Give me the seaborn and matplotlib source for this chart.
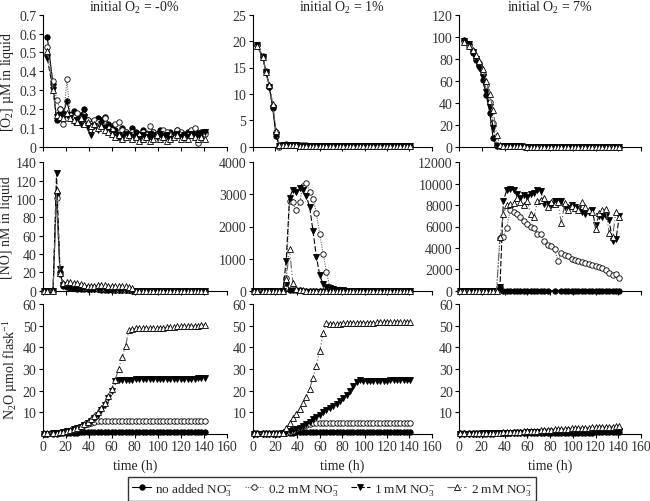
import numpy as np
import matplotlib
matplotlib.use("Agg")
import matplotlib.pyplot as plt
from matplotlib.ticker import FormatStrFormatter
import seaborn as sns

nan = np.nan

# sampling times (h)
time_h = [1, 4, 9, 12, 15, 18, 21, 24, 27, 30,
          33, 36, 39, 42, 45, 48, 51, 54, 57, 60,
          63, 66, 69, 72, 75, 78, 81, 84, 87, 90,
          93, 96, 99, 102, 105, 108, 111, 114, 117, 120,
          123, 126, 129, 132, 135, 138, 141]

treatments = ["no added NO$_3^{-}$", "0.2 mM NO$_3^{-}$", "1 mM NO$_3^{-}$", "2 mM NO$_3^{-}$"]
col_titles = ["initial O$_2$ = -0%", "initial O$_2$ = 1%", "initial O$_2$ = 7%"]
row_labels = ["[O$_2$] \u00b5M in liquid", "[NO] nM in liquid", "N$_2$O \u00b5mol flask$^{-1}$"]

# ---- [O2] uM, initial O2 ~0%
o2_a_none = [nan, 0.58, 0.33, 0.14, 0.20, 0.18, 0.24, 0.17, 0.19, 0.15,
             0.17, 0.20, 0.14, 0.13, 0.12, 0.15, 0.14, 0.16, 0.12, 0.11,
             0.09, 0.05, 0.10, 0.08, 0.07, 0.10, 0.08, 0.06, 0.09, 0.07,
             0.05, 0.08, 0.06, 0.09, 0.07, 0.06, 0.08, 0.06, 0.09, 0.07,
             0.05, 0.08, 0.06, 0.09, 0.07, 0.08, 0.08]
o2_a_02 = [nan, 0.53, 0.35, 0.25, 0.20, 0.12, 0.36, 0.17, 0.16, 0.18,
           0.15, 0.17, 0.14, 0.12, 0.14, 0.13, 0.12, 0.15, 0.10, 0.09,
           0.12, 0.13, 0.09, 0.08, 0.06, 0.08, 0.07, 0.06, 0.08, 0.07,
           0.11, 0.08, 0.07, 0.06, 0.09, 0.08, 0.07, 0.06, 0.09, 0.08,
           0.07, 0.06, 0.09, 0.10, 0.02, 0.06, 0.07]
o2_a_1 = [nan, 0.47, 0.30, 0.16, 0.17, 0.15, 0.17, 0.15, 0.13, 0.14,
          0.12, 0.16, 0.10, 0.06, 0.11, 0.09, 0.12, 0.10, 0.08, 0.07,
          0.05, 0.06, 0.05, 0.07, 0.06, 0.05, 0.07, 0.04, 0.06, 0.05,
          0.07, 0.06, 0.05, 0.07, 0.05, 0.06, 0.04, 0.06, 0.07, 0.05,
          0.06, 0.05, 0.07, 0.06, 0.05, 0.07, 0.08]
o2_a_2 = [nan, 0.51, 0.30, 0.17, 0.16, 0.15, 0.18, 0.15, 0.14, 0.13,
          0.15, 0.12, 0.13, 0.11, 0.12, 0.10, 0.11, 0.09, 0.08, 0.07,
          0.05, 0.06, 0.04, 0.05, 0.06, 0.04, 0.05, 0.03, 0.04, 0.05,
          0.03, 0.04, 0.06, 0.04, 0.05, 0.03, 0.04, 0.05, 0.06, 0.04,
          0.05, 0.04, 0.06, 0.05, 0.04, 0.05, 0.04]

# ---- [O2] uM, initial O2 1%
o2_b_none = [nan, 19.3, 17.0, 14.2, 11.4, 7.3, 2.1, 0.1, 0.3, 0.4,
             0.3, 0.3, 0.25, 0.2, 0.2, 0.2, 0.15, 0.15, 0.1, 0.1,
             0.1, 0.1, 0.1, 0.1, 0.05, 0.05, 0.05, 0.05, 0.05, 0.05,
             0.05, 0.05, 0.05, 0.05, 0.05, 0.05, 0.05, 0.05, 0.05, 0.05,
             0.05, 0.05, 0.05, 0.05, 0.05, 0.05, 0.05]
o2_b_02 = [nan, 19.3, 17.1, 14.3, 11.5, 7.8, 2.8, 0.0, 0.4, 0.5,
           0.4, 0.35, 0.3, 0.3, 0.25, 0.25, 0.2, 0.2, 0.15, 0.15,
           0.1, 0.1, 0.1, 0.1, 0.1, 0.1, 0.05, 0.05, 0.05, 0.05,
           0.05, 0.05, 0.05, 0.05, 0.05, 0.05, 0.05, 0.05, 0.05, 0.05,
           0.05, 0.05, 0.05, 0.05, 0.05, 0.05, 0.05]
o2_b_1 = [nan, 19.2, 17.0, 14.1, 11.3, 7.4, 2.2, 0.1, 0.3, 0.4,
          0.3, 0.3, 0.25, 0.2, 0.2, 0.2, 0.15, 0.15, 0.1, 0.1,
          0.1, 0.1, 0.1, 0.1, 0.05, 0.05, 0.05, 0.05, 0.05, 0.05,
          0.05, 0.05, 0.05, 0.05, 0.05, 0.05, 0.05, 0.05, 0.05, 0.05,
          0.05, 0.05, 0.05, 0.05, 0.05, 0.05, 0.05]
o2_b_2 = [nan, 19.0, 16.9, 14.2, 11.7, 8.0, 3.0, 0.3, 0.4, 0.4,
          0.3, 0.3, 0.25, 0.2, 0.2, 0.2, 0.15, 0.15, 0.1, 0.1,
          0.1, 0.1, 0.1, 0.1, 0.05, 0.05, 0.05, 0.05, 0.05, 0.05,
          0.05, 0.05, 0.05, 0.05, 0.05, 0.05, 0.05, 0.05, 0.05, 0.05,
          0.05, 0.05, 0.05, 0.05, 0.05, 0.05, 0.05]

# ---- [O2] uM, initial O2 7%
o2_c_none = [nan, 97, 93, 85, 79, 73, 61, 47, 31, 8,
             0.5, 0.5, 0.3, 0.3, 0.2, 0.2, 0.2, 0.2, 0.1, 0.1,
             0.1, 0.1, 0.1, 0.1, 0.1, 0.1, 0.1, 0.1, 0.1, 0.1,
             0.1, 0.1, 0.1, 0.1, 0.1, 0.1, 0.1, 0.1, 0.1, 0.1,
             0.1, 0.1, 0.1, 0.1, 0.1, 0.1, 0.1]
o2_c_02 = [nan, 96, 92, 87, 81, 76, 66, 56, 41, 22,
           1.5, 1.0, 0.5, 0.4, 0.3, 0.3, 0.2, 0.2, 0.2, 0.1,
           0.1, 0.1, 0.1, 0.1, 0.1, 0.1, 0.1, 0.1, 0.1, 0.1,
           0.1, 0.1, 0.1, 0.1, 0.1, 0.1, 0.1, 0.1, 0.1, 0.1,
           0.1, 0.1, 0.1, 0.1, 0.1, 0.1, 0.1]
o2_c_1 = [nan, 96, 93, 86, 80, 72, 63, 50, 36, 17,
          1.0, 0.5, 0.4, 0.3, 0.3, 0.2, 0.2, 0.2, 0.1, 0.1,
          0.1, 0.1, 0.1, 0.1, 0.1, 0.1, 0.1, 0.1, 0.1, 0.1,
          0.1, 0.1, 0.1, 0.1, 0.1, 0.1, 0.1, 0.1, 0.1, 0.1,
          0.1, 0.1, 0.1, 0.1, 0.1, 0.1, 0.1]
o2_c_2 = [nan, 95, 92, 88, 83, 78, 71, 60, 48, 33,
          11, 1.5, 0.5, 0.4, 0.3, 0.3, 0.2, 0.2, 0.2, 0.1,
          0.1, 0.1, 0.1, 0.1, 0.1, 0.1, 0.1, 0.1, 0.1, 0.1,
          0.1, 0.1, 0.1, 0.1, 0.1, 0.1, 0.1, 0.1, 0.1, 0.1,
          0.1, 0.1, 0.1, 0.1, 0.1, 0.1, 0.1]

# ---- [NO] nM, initial O2 ~0%
no_a_none = [0, 0, 0, 107, 20, 5, 4, 3, 3, 2,
             2, 2, 2, 2, 2, 2, 1, 1, 1, 1,
             1, 1, 1, 1, 1, 1, 0, 0, 0, 0,
             0, 0, 0, 0, 0, 0, 0, 0, 0, 0,
             0, 0, 0, 0, 0, 0, 0]
no_a_02 = [0, 0, 0, 101, 18, 7, 6, 5, 5, 4,
           4, 3, 3, 3, 3, 2, 2, 2, 2, 2,
           1, 1, 1, 1, 1, 0, 0, 0, 0, 0,
           0, 0, 0, 0, 0, 0, 0, 0, 0, 0,
           0, 0, 0, 0, 0, 0, 0]
no_a_1 = [0, 0, 0, 128, 24, 6, 5, 4, 4, 3,
          3, 3, 2, 2, 2, 2, 2, 2, 1, 1,
          1, 1, 1, 1, 1, 0, 0, 0, 0, 0,
          0, 0, 0, 0, 0, 0, 0, 0, 0, 0,
          0, 0, 0, 0, 0, 0, 0]
no_a_2 = [0, 0, 0, 110, 19, 8, 9, 9, 8, 8,
          7, 6, 5, 5, 5, 6, 6, 6, 5, 5,
          5, 5, 5, 5, 4, 3, 0, 0, 0, 0,
          0, 0, 0, 0, 0, 0, 0, 0, 0, 0,
          0, 0, 0, 0, 0, 0, 0]

# ---- [NO] nM, initial O2 1%
no_b_none = [0, 0, 0, 0, 0, 0, 0, 0, 0, 250,
             30, 20, 10, 10, 5, 0, 0, 0, 0, 0,
             0, 0, 0, 0, 0, 0, 0, 0, 0, 0,
             0, 0, 0, 0, 0, 0, 0, 0, 0, 0,
             0, 0, 0, 0, 0, 0, 0]
no_b_02 = [0, 0, 0, 0, 0, 0, 0, 0, 0, 400,
           2800, 2750, 2500, 2750, 3250, 3350, 3080, 2860, 2420, 1760,
           1150, 590, 100, 50, 20, 10, 0, 0, 0, 0,
           0, 0, 0, 0, 0, 0, 0, 0, 0, 0,
           0, 0, 0, 0, 0, 0, 0]
no_b_1 = [0, 0, 0, 0, 0, 0, 0, 0, 0, 930,
          2900, 3150, 3080, 3200, 3150, 2950, 2600, 1850, 1050, 480,
          200, 120, 80, 50, 30, 20, 10, 0, 0, 0,
          0, 0, 0, 0, 0, 0, 0, 0, 0, 0,
          0, 0, 0, 0, 0, 0, 0]
no_b_2 = [0, 0, 0, 0, 0, 0, 0, 0, 0, 350,
          1300, 230, 50, 20, 10, 5, 0, 0, 0, 0,
          0, 0, 0, 0, 0, 0, 0, 0, 0, 0,
          0, 0, 0, 0, 0, 0, 0, 0, 0, 0,
          0, 0, 0, 0, 0, 0, 0]

# ---- [NO] nM, initial O2 7%
no_c_none = [0, 0, 0, 0, 0, 0, 0, 0, 0, 0,
             0, 300, 0, 0, 0, 0, 0, 0, 0, 0,
             0, 0, 0, 0, 0, 0, nan, 0, nan, 0,
             0, 0, 0, 0, 0, 0, 0, 0, 0, 0,
             0, 0, 0, 0, 0, 0, 0]
no_c_02 = [0, 0, 0, 0, 0, 0, 0, 0, 0, 0,
           0, 4900, 5000, 5900, 7500, 7400, 7200, 6900, 6500, 6200,
           6000, 5900, 5300, 5300, 4600, 4300, 4200, 3900, 2800, 3500,
           3300, 3200, 3000, 2900, 2800, 2700, 2600, 2500, 2400, 2300,
           2200, 2100, 1900, 1700, 1500, 1600, 1200]
no_c_1 = [0, 0, 0, 0, 0, 0, 0, 0, 0, 0,
          0, 300, 8400, 9400, 9500, 9400, 9000, 8700, 8900, 8800,
          9000, 9100, 9400, 9300, 8100, 8100, 8000, 8400, 8400, 8400,
          7800, 7700, 8000, 7800, 7600, 7400, 7200, 7400, 7500, 6100,
          7000, 6900, 7000, 6600, 4600, 4800, 7000]
no_c_2 = [0, 0, 0, 0, 0, 0, 0, 0, 0, 0,
          0, 5000, 7200, 8000, 8100, 8200, 8700, 8300, 8000, 8400,
          7200, 6900, 8400, 8500, 8700, 7800, 8300, 8100, 8300, 6300,
          8200, 7500, 7900, 7700, 7500, 8300, 7800, 7500, 7400, 5800,
          7300, 7500, 7600, 5400, 5000, 7400, 6900]

# ---- N2O umol per flask, initial O2 ~0%
n2o_a_none = [0.1, 0.1, 0.2, 0.2, 0.3, 0.4, 0.5, 0.5, 0.6, 0.6,
              0.7, 0.7, 0.7, 0.7, 0.8, 0.8, 0.8, 0.8, 0.8, 0.8,
              0.8, 0.8, 0.8, 0.8, 0.8, 0.8, 0.8, 0.8, 0.8, 0.8,
              0.8, 0.8, 0.8, 0.9, 0.9, 0.9, 0.9, 0.9, 0.9, 0.9,
              0.9, 0.9, 0.9, 0.9, 0.9, 0.9, 0.9]
n2o_a_02 = [0.2, 0.2, 0.3, 0.4, 0.6, 0.9, 1.2, 1.6, 2.1, 2.7,
            3.3, 4.0, 4.7, 5.3, 5.7, 5.8, 5.8, 5.8, 5.8, 5.8,
            5.8, 5.8, 5.8, 5.8, 5.8, 5.8, 5.8, 5.8, 5.8, 5.8,
            5.8, 5.8, 5.8, 5.8, 5.8, 5.8, 5.8, 5.8, 5.8, 5.8,
            5.8, 5.8, 5.8, 5.8, 5.8, 5.8, 5.8]
n2o_a_1 = [0.2, 0.2, 0.3, 0.4, 0.6, 0.9, 1.2, 1.6, 2.1, 2.7,
           3.4, 4.2, 5.1, 6.2, 7.5, 9.0, 11.0, 13.5, 16.5, 20.0,
           24.5, 25.0, 25.0, 25.1, 25.1, 25.1, 25.2, 25.2, 25.2, 25.3,
           25.3, 25.3, 25.3, 25.4, 25.4, 25.4, 25.4, 25.5, 25.5, 25.5,
           25.5, 25.6, 25.6, 25.6, 25.7, 25.7, 25.8]
n2o_a_2 = [0.3, 0.3, 0.4, 0.5, 0.8, 1.0, 1.4, 1.9, 2.4, 3.0,
           3.8, 4.6, 5.6, 6.8, 8.2, 10.0, 12.0, 14.5, 17.5, 21.0,
           25.0, 30.0, 35.5, 40.5, 48.0, 48.5, 48.7, 48.8, 48.8, 48.9,
           48.9, 49.0, 48.7, 48.8, 49.0, 49.3, 49.5, 49.6, 49.7, 49.7,
           49.8, 49.8, 49.9, 50.0, 50.0, 50.2, 50.5]

# ---- N2O umol per flask, initial O2 1%
n2o_b_none = [0.2, 0.2, 0.2, 0.2, 0.2, 0.2, 0.2, 0.2, 0.3, 0.4,
              0.5, 0.6, 0.7, 0.7, 0.8, 0.8, 0.8, 0.8, 0.8, 0.8,
              0.8, 0.8, 0.8, 0.8, 0.8, 0.8, 0.8, 0.8, 0.8, 0.8,
              0.8, 0.8, 0.8, 0.8, 0.8, 0.8, 0.8, 0.8, 0.8, 0.8,
              0.8, 0.8, 0.8, 0.8, 0.8, 0.8, 0.8]
n2o_b_02 = [0.3, 0.3, 0.3, 0.3, 0.3, 0.3, 0.3, 0.3, 0.4, 0.6,
            1.0, 1.5, 2.1, 2.8, 3.5, 4.1, 4.6, 5.0, 5.2, 5.3,
            5.3, 5.3, 5.3, 5.3, 5.3, 5.3, 5.3, 5.3, 5.3, 5.3,
            5.3, 5.3, 5.3, 5.3, 5.3, 5.3, 5.3, 5.3, 5.3, 5.3,
            5.3, 5.3, 5.3, 5.3, 5.3, 5.3, 5.3]
n2o_b_1 = [0.2, 0.2, 0.2, 0.2, 0.2, 0.2, 0.2, 0.2, 0.5, 0.8,
           1.2, 1.7, 2.3, 3.0, 3.8, 4.7, 5.7, 6.8, 7.9, 9.0,
           10.0, 11.0, 12.0, 13.0, 14.0, 15.2, 16.6, 18.2, 20.0, 22.0,
           24.0, 24.8, 24.6, 24.5, 24.5, 24.5, 24.6, 24.6, 24.6, 24.6,
           24.7, 24.7, 24.7, 24.7, 24.8, 24.8, 24.8]
n2o_b_2 = [0.3, 0.3, 0.3, 0.3, 0.3, 0.3, 0.3, 0.4, 0.6, 2.7,
           5.0, 7.3, 9.2, 11.6, 14.2, 17.3, 21.0, 26.0, 31.5, 38.3,
           46.7, 51.3, 51.0, 50.9, 51.0, 51.0, 51.1, 51.1, 51.2, 51.2,
           51.3, 51.3, 51.3, 51.4, 51.4, 51.4, 51.5, 51.5, 51.5, 51.5,
           51.6, 51.6, 51.6, 51.6, 51.7, 51.7, 51.7]

# ---- N2O umol per flask, initial O2 7%
n2o_c_none = [0.2, 0.2, 0.2, 0.2, 0.2, 0.2, 0.2, 0.2, 0.2, 0.2,
              0.3, 0.3, 0.3, 0.3, 0.3, 0.3, 0.3, 0.4, 0.4, 0.4,
              0.4, 0.4, 0.4, 0.4, 0.5, 0.5, 0.5, 0.5, 0.5, 0.5,
              0.5, 0.6, 0.6, 0.6, 0.6, 0.6, 0.6, 0.6, 0.6, 0.7,
              0.7, 0.7, 0.7, 0.7, 0.7, 0.7, 0.7]
n2o_c_02 = [0.3, 0.3, 0.3, 0.3, 0.3, 0.3, 0.3, 0.4, 0.4, 0.4,
            0.5, 0.5, 0.5, 0.6, 0.6, 0.7, 0.7, 0.8, 0.8, 0.9,
            0.9, 1.0, 1.1, 1.1, 1.2, 1.3, 1.3, 1.4, 1.5, 1.5,
            1.6, 1.7, 1.7, 1.8, 1.8, 1.9, 1.9, 2.0, 2.0, 2.1,
            2.1, 2.1, 2.2, 2.2, 2.2, 2.3, 2.3]
n2o_c_1 = [0.2, 0.2, 0.2, 0.2, 0.2, 0.2, 0.3, 0.3, 0.3, 0.3,
           0.4, 0.4, 0.4, 0.5, 0.5, 0.5, 0.6, 0.6, 0.6, 0.7,
           0.7, 0.7, 0.8, 0.8, 0.8, 0.9, 0.9, 0.9, 1.0, 1.0,
           1.0, 1.1, 1.1, 1.1, 1.2, 1.2, 1.2, 1.3, 1.3, 1.3,
           1.4, 1.4, 1.4, 1.5, 1.5, 1.5, 1.5]
n2o_c_2 = [0.3, 0.3, 0.3, 0.3, 0.3, 0.4, 0.4, 0.4, 0.5, 0.5,
           0.6, 0.6, 0.7, 0.8, 0.8, 0.9, 1.0, 1.1, 1.2, 1.3,
           1.4, 1.5, 1.6, 1.7, 1.8, 1.9, 2.0, 2.1, 2.2, 2.3,
           2.4, 2.5, 2.6, 2.7, 2.8, 2.9, 3.0, 3.0, 3.1, 3.2,
           3.2, 3.3, 3.3, 3.4, 3.4, 3.5, 3.5]

grid = [
    [(o2_a_none, o2_a_02, o2_a_1, o2_a_2), (o2_b_none, o2_b_02, o2_b_1, o2_b_2), (o2_c_none, o2_c_02, o2_c_1, o2_c_2)],
    [(no_a_none, no_a_02, no_a_1, no_a_2), (no_b_none, no_b_02, no_b_1, no_b_2), (no_c_none, no_c_02, no_c_1, no_c_2)],
    [(n2o_a_none, n2o_a_02, n2o_a_1, n2o_a_2), (n2o_b_none, n2o_b_02, n2o_b_1, n2o_b_2), (n2o_c_none, n2o_c_02, n2o_c_1, n2o_c_2)],
]

# y ranges (max, step) per panel
y_scales = [
    [(0.7, 0.1), (25, 5), (120, 20)],
    [(140, 20), (4000, 1000), (12000, 2000)],
    [(60, 10), (60, 10), (60, 10)],
]

# line / marker style per treatment
series_styles = [
    dict(marker="o", color="black", markerfacecolor="black", linestyle="-"),
    dict(marker="o", color="0.4", markerfacecolor="white", linestyle=(0, (1, 1.2))),
    dict(marker="v", color="black", markerfacecolor="black", linestyle=(0, (5, 2))),
    dict(marker="^", color="0.4", markerfacecolor="white", linestyle=(0, (7, 2, 1, 2, 1, 2))),
]

sns.set_theme(style="ticks")
plt.rcParams["font.family"] = ["Liberation Serif", "DejaVu Serif"]
plt.rcParams["mathtext.fontset"] = "custom"
plt.rcParams["mathtext.rm"] = "Liberation Serif"
plt.rcParams["mathtext.it"] = "Liberation Serif:italic"
plt.rcParams["axes.unicode_minus"] = False

fig = plt.figure(figsize=(6.5, 5.02), dpi=100)

# axes boxes in pixels of the 650x502 figure
col_box = [(42.7, 184.0), (252.6, 179.1), (459.0, 182.0)]
row_box = [(15.7, 147.7), (163.3, 291.7), (305.0, 435.0)]

axes = []
for r in range(3):
    for c in range(3):
        left, width = col_box[c]
        top, bottom = row_box[r]
        ax = fig.add_axes([left / 650, 1 - bottom / 502, width / 650, (bottom - top) / 502])
        for s, vals in enumerate(grid[r][c]):
            st = series_styles[s]
            sns.lineplot(x=time_h, y=vals, ax=ax, estimator=None, sort=False,
                         label=treatments[s], marker=st["marker"], color=st["color"],
                         linestyle=st["linestyle"], linewidth=0.8,
                         markersize=3.9, markerfacecolor=st["markerfacecolor"],
                         markeredgecolor="black", markeredgewidth=0.6, clip_on=False,
                         zorder=3 + s)
        ymax, ystep = y_scales[r][c]
        ax.set_xlim(0, 160)
        ax.set_ylim(0, ymax)
        ax.set_xticks(np.arange(0, 161, 20))
        if r == 2:
            ax.set_yticks(np.arange(ystep, ymax + ystep / 2, ystep))
            ax.set_xlabel("time (h)", fontsize=10, labelpad=4, fontweight="normal")
        else:
            ax.set_yticks(np.arange(0, ymax + ystep / 2, ystep))
            ax.tick_params(axis="x", labelbottom=False)
            ax.set_xlabel("")
        ax.yaxis.set_major_formatter(FormatStrFormatter("%g"))
        ax.tick_params(length=3, width=0.8, color="black", labelsize=10, pad=1.5,
                       labelcolor="#333333")
        for side in ("left", "bottom"):
            ax.spines[side].set_color("black")
            ax.spines[side].set_linewidth(0.8)
        sns.despine(ax=ax)
        if r == 0:
            ax.set_title(col_titles[c], fontsize=10, pad=3, color="#222222")
        if c == 0:
            ax.set_ylabel(row_labels[r], fontsize=10, labelpad=2, color="#222222")
        else:
            ax.set_ylabel("")
        ax.get_legend().remove()
        axes.append(ax)

handles, labels = axes[0].get_legend_handles_labels()
leg = fig.legend(handles, labels, loc="center", bbox_to_anchor=(0.511, 0.024), ncol=4,
                 frameon=True, fancybox=False, edgecolor="black", fontsize=9.5,
                 handlelength=1.4, handletextpad=0.35, columnspacing=0.9,
                 borderpad=0.3, borderaxespad=0)
leg.get_frame().set_linewidth(1.0)

fig.savefig("out.png", dpi=100)
